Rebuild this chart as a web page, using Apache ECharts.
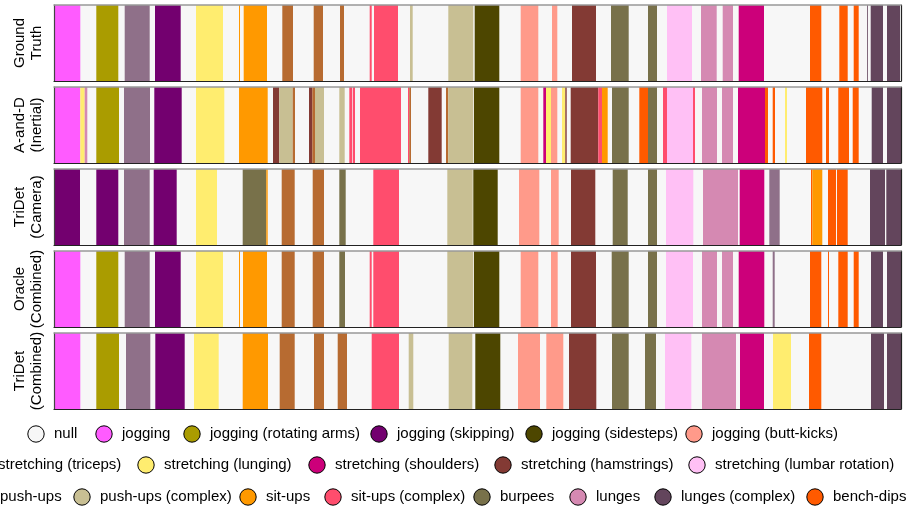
<!DOCTYPE html>
<html><head><meta charset="utf-8">
<script src="https://cdn.jsdelivr.net/npm/echarts@6/dist/echarts.min.js"></script>
<style>html,body{margin:0;padding:0;background:#fff}#c{width:912px;height:507px}</style>
</head><body><div id="c"></div><script>
// ---- classes and colours ----
const classes = ['null','jogging','jogging (rotating arms)','jogging (skipping)','jogging (sidesteps)','jogging (butt-kicks)',
  'stretching (triceps)','stretching (lunging)','stretching (shoulders)','stretching (hamstrings)','stretching (lumbar rotation)',
  'push-ups','push-ups (complex)','sit-ups','sit-ups (complex)','burpees','lunges','lunges (complex)','bench-dips'];
const classColors = ['#F7F7F7','#FF5BFF','#AA9C00','#73006F','#4D4600','#FF9A8A',
  '#8F7089','#FFED6F','#CC007A','#833A34','#FFC0F5',
  '#B76B31','#C8BF93','#FF9900','#FF4D6D','#78714A','#D589B2','#63455C','#FF5A00'];
const rowLabels = ['Ground\nTruth','A-and-D\n(Inertial)','TriDet\n(Camera)','Oracle\n(Combined)','TriDet\n(Combined)'];
const timeMax = 847;

// ---- segments: [start, end, class] ----
const groundTruth = [
 [0,26.3,'jogging'],[42.3,64.3,'jogging (rotating arms)'],[70.7,95.7,'stretching (triceps)'],[101,126.7,'jogging (skipping)'],
 [142,169,'stretching (lunging)'],[185,186,'sit-ups'],[189.7,213,'sit-ups'],[228.3,239,'push-ups'],[259.7,269,'push-ups'],
 [286,290,'push-ups'],[315.7,317.7,'sit-ups (complex)'],[320,344,'sit-ups (complex)'],[356,358.7,'push-ups (complex)'],
 [394.3,419.3,'push-ups (complex)'],[420.7,445.3,'jogging (sidesteps)'],[466.7,484.3,'jogging (butt-kicks)'],[498,503.3,'jogging (butt-kicks)'],
 [518,542,'stretching (hamstrings)'],[557,574.7,'burpees'],[594,603,'burpees'],[613,638,'stretching (lumbar rotation)'],
 [647,662.7,'lunges'],[668.7,679,'lunges'],[684.7,710,'stretching (shoulders)'],[756,767.3,'bench-dips'],[785.3,793.7,'bench-dips'],
 [799.7,804.7,'bench-dips'],[813,813.8,'lunges (complex)'],[816.7,829,'lunges (complex)'],[833,846,'lunges (complex)']
];
const aAndDInertial = [
 [0,26.3,'jogging'],[26.3,30.7,'stretching (lunging)'],[30.7,33.3,'lunges'],[42.3,65,'jogging (rotating arms)'],[70,96,'stretching (triceps)'],
 [100.3,127.7,'jogging (skipping)'],[142,170.3,'stretching (lunging)'],[185,213.7,'sit-ups'],[219,225.3,'stretching (hamstrings)'],
 [225.3,238.7,'push-ups (complex)'],[238.7,241,'push-ups'],[255,258.3,'stretching (hamstrings)'],[258.3,261,'push-ups'],
 [261,270,'push-ups (complex)'],[285.3,290.7,'push-ups (complex)'],[295.3,298,'sit-ups (complex)'],[298.7,301,'sit-ups (complex)'],
 [306,347,'sit-ups (complex)'],[354,355.3,'sit-ups (complex)'],[355.3,357,'push-ups'],[374.3,387.7,'stretching (hamstrings)'],
 [392,394.3,'push-ups'],[394.3,419.3,'push-ups (complex)'],[420,445.3,'jogging (sidesteps)'],[466.7,484.3,'jogging (butt-kicks)'],
 [489.3,492,'stretching (shoulders)'],[492,497,'stretching (lunging)'],[497,503.3,'jogging (butt-kicks)'],[508,511.3,'stretching (lunging)'],
 [511.3,512.7,'stretching (hamstrings)'],[516.7,544.3,'stretching (hamstrings)'],[544.3,548,'sit-ups (complex)'],[548,553.7,'sit-ups'],
 [558,574.7,'burpees'],[585.3,594,'bench-dips'],[594,603,'burpees'],[609,613,'sit-ups (complex)'],[613,639,'stretching (lumbar rotation)'],
 [639,641,'sit-ups (complex)'],[648,663,'lunges'],[668,679,'lunges'],[684,711,'stretching (shoulders)'],[711,714,'bench-dips'],
 [718.7,721,'bench-dips'],[731,733,'stretching (lunging)'],[752,768.3,'bench-dips'],[772,775,'bench-dips'],[784.3,795,'bench-dips'],
 [798.7,804.7,'bench-dips'],[817.7,829,'lunges (complex)'],[833,847,'lunges (complex)']
];
const triDetCamera = [
 [0,26,'jogging (skipping)'],[42.3,64.3,'jogging (skipping)'],[70,95.7,'stretching (triceps)'],[99.7,122.7,'jogging (skipping)'],
 [142,163,'stretching (lunging)'],[188.7,212.3,'burpees'],[212.3,213.7,'sit-ups'],[227.7,240.7,'push-ups'],[258.7,270,'push-ups'],
 [285.3,291.7,'burpees'],[319.3,345,'sit-ups (complex)'],[393.3,418.7,'push-ups (complex)'],[419.3,443.7,'jogging (sidesteps)'],
 [465,485.3,'jogging (butt-kicks)'],[497,504.7,'jogging (butt-kicks)'],[517,541.3,'stretching (hamstrings)'],[558.7,573.7,'burpees'],
 [594,603,'burpees'],[612,639.3,'stretching (lumbar rotation)'],[649,684,'lunges'],[685.7,710.3,'stretching (shoulders)'],
 [715.3,725.7,'stretching (triceps)'],[757,758.3,'bench-dips'],[758.3,768.3,'sit-ups'],[774,782,'bench-dips'],[783,793.7,'bench-dips'],
 [816,831,'lunges (complex)'],[832.3,847,'lunges (complex)']
];
const oracleCombined = [
 [0,26.3,'jogging'],[42.3,64.3,'jogging (rotating arms)'],[70.7,95.7,'stretching (triceps)'],[101,126.7,'jogging (skipping)'],
 [142,169,'stretching (lunging)'],[185,186,'sit-ups'],[189,213,'sit-ups'],[227.7,240.7,'push-ups'],[258.7,270,'push-ups'],
 [285.3,291,'burpees'],[315.7,317.7,'sit-ups (complex)'],[319.3,345,'sit-ups (complex)'],[393.3,419.3,'push-ups (complex)'],
 [420,445.3,'jogging (sidesteps)'],[466.7,484.3,'jogging (butt-kicks)'],[497,503.7,'jogging (butt-kicks)'],[517,542,'stretching (hamstrings)'],
 [557.7,574.7,'burpees'],[594,603,'burpees'],[612,639,'stretching (lumbar rotation)'],[648,663,'lunges'],[668,679,'lunges'],
 [684.7,710.3,'stretching (shoulders)'],[718.7,720.7,'stretching (triceps)'],[756,767.3,'bench-dips'],[774,775,'bench-dips'],
 [784.3,793.7,'bench-dips'],[799.7,804.7,'bench-dips'],[817,829,'lunges (complex)'],[833,847,'lunges (complex)']
];
const triDetCombined = [
 [0,26.3,'jogging'],[42.3,65,'jogging (rotating arms)'],[72,96.3,'stretching (triceps)'],[101.3,130.7,'jogging (skipping)'],
 [140,164.7,'stretching (lunging)'],[188.7,214,'sit-ups'],[225.7,240.7,'push-ups'],[260,270,'push-ups'],[283.7,293,'push-ups'],
 [317.7,345,'sit-ups (complex)'],[354.7,359.3,'push-ups (complex)'],[394.7,418.3,'push-ups (complex)'],[421.3,446.3,'jogging (sidesteps)'],
 [464,486,'jogging (butt-kicks)'],[492.3,509.3,'jogging (butt-kicks)'],[515,542.3,'stretching (hamstrings)'],[558,574.7,'burpees'],
 [591,602,'burpees'],[611,637.3,'stretching (lumbar rotation)'],[648,682,'lunges'],[686,710,'stretching (shoulders)'],
 [719,737,'stretching (lunging)'],[755,767.3,'bench-dips'],[817,830,'lunges (complex)'],[833,847,'lunges (complex)']
];

// ---- legend rows (class names) ----
const legendRow1 = ['null','jogging','jogging (rotating arms)','jogging (skipping)','jogging (sidesteps)','jogging (butt-kicks)'];
const legendRow2 = ['stretching (triceps)','stretching (lunging)','stretching (shoulders)','stretching (hamstrings)','stretching (lumbar rotation)'];
const legendRow3 = ['push-ups','push-ups (complex)','sit-ups','sit-ups (complex)','burpees','lunges','lunges (complex)','bench-dips'];

// layout (pixels)
const legendMarkerX = [[36,104,192,379,534,694],[-20,146,317,503,697],[-18,82,248,333,482,578,663,815]];
const legendY = [434,465,497];
const rowTops = [5,87,169,251,333];
const FONT = '"Liberation Sans", Arial, Helvetica, sans-serif';

const rows = [groundTruth, aAndDInertial, triDetCamera, oracleCombined, triDetCombined];
const grid = [], xAxis = [], yAxis = [], series = [];
rows.forEach((segs, i) => {
  grid.push({left:54, right:11, top:rowTops[i], height:76, show:true, backgroundColor:'#F7F7F7', borderWidth:0});
  const baseX = {gridIndex:i, type:'value', min:0, max:timeMax, z:10, axisTick:{show:false}, axisLabel:{show:false}, splitLine:{show:false}};
  xAxis.push(Object.assign({}, baseX, {position:'bottom', axisLine:{show:true, onZero:false, lineStyle:{color:'#222', width:1.2}}}));
  xAxis.push(Object.assign({}, baseX, {position:'top', axisLine:{show:true, onZero:false, lineStyle:{color:'#999', width:1.5}}}));
  const baseY = {gridIndex:i, type:'category', data:['r'], z:10, axisTick:{show:false}, axisLabel:{show:false}, splitLine:{show:false}};
  yAxis.push(Object.assign({}, baseY, {position:'left', axisLine:{show:true, onZero:false, lineStyle:{color:'#444', width:1.2}},
    name: rowLabels[i], nameLocation:'middle', nameRotate:90, nameGap:9,
    nameTextStyle:{fontSize:15, fontFamily:FONT, color:'#000', lineHeight:17, align:'center'}}));
  yAxis.push(Object.assign({}, baseY, {position:'right', axisLine:{show:true, onZero:false, lineStyle:{color:'#222', width:1.2}}}));
  series.push({
    type:'custom', xAxisIndex:2*i, yAxisIndex:2*i,
    encode:{x:[0,1], y:3},
    data: segs.map(d => [d[0], d[1], classes.indexOf(d[2]), 0]),
    renderItem(params, api) {
      const s = api.coord([api.value(0), api.value(3)]);
      const e = api.coord([api.value(1), api.value(3)]);
      const h = api.size([0, 1])[1];
      return {type:'rect', shape:{x:s[0], y:s[1]-h/2, width:Math.max(e[0]-s[0],0.8), height:h},
        style:{fill:classColors[api.value(2)]}};
    },
    silent:true, animation:false
  });
});

const graphics = [];
[legendRow1, legendRow2, legendRow3].forEach((names, r) => {
  names.forEach((n, k) => {
    const cx = legendMarkerX[r][k], cy = legendY[r];
    graphics.push({type:'circle', shape:{cx, cy, r:8.2}, style:{fill:classColors[classes.indexOf(n)], stroke:'#000', lineWidth:1}});
    graphics.push({type:'text', x:cx+18, y:cy, style:{text:n, font:'15px '+FONT, fill:'#000', verticalAlign:'middle', align:'left'}});
  });
});

const chart = echarts.init(document.getElementById('c'));
chart.setOption({animation:false, grid, xAxis, yAxis, series, graphic:graphics});
</script></body></html>
